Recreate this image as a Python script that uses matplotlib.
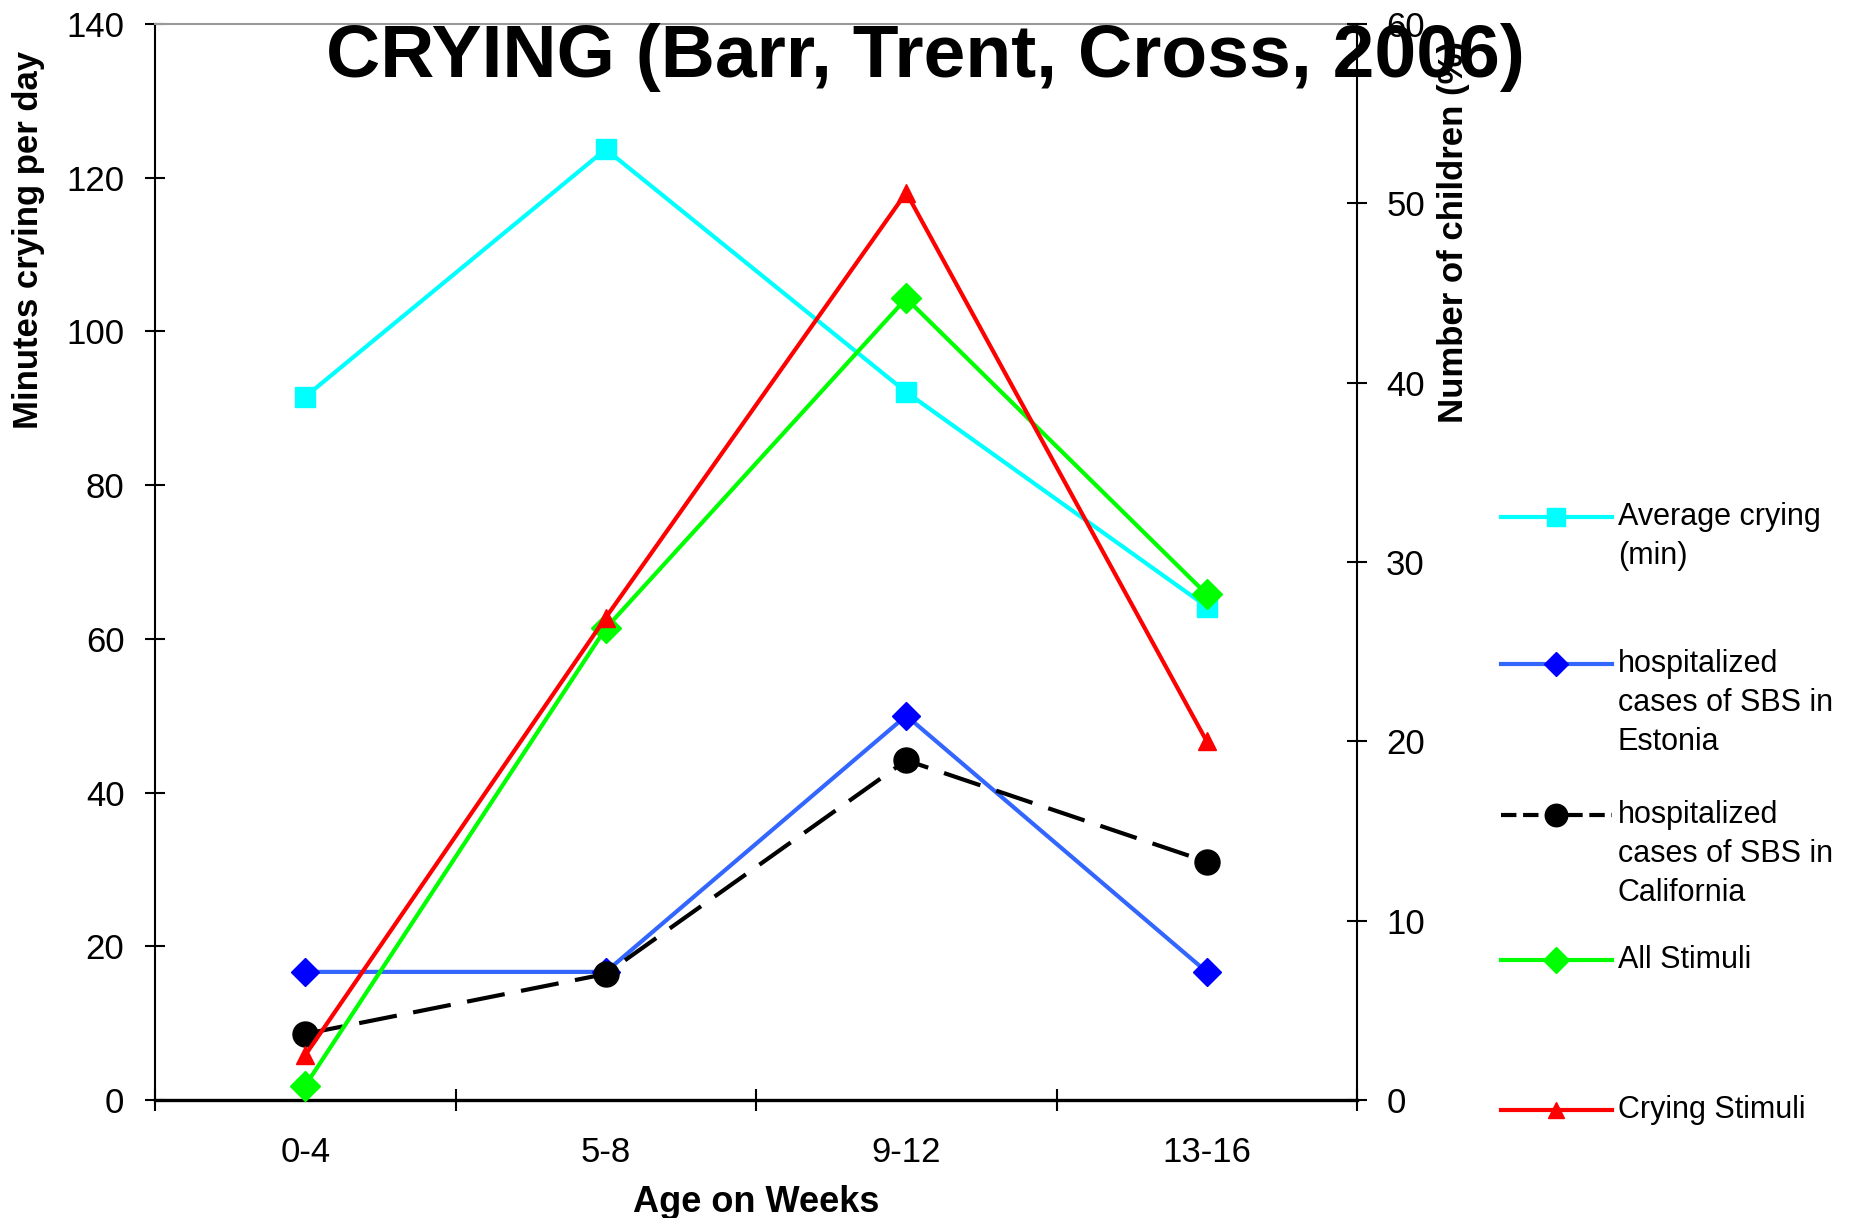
import matplotlib.pyplot as plt
from matplotlib.lines import Line2D

# data
ages = ['0-4', '5-8', '9-12', '13-16']

avg_crying = [91.5, 123.7, 92.1, 64.2]        # minutes / day (left axis)
sbs_estonia = [16.67, 16.67, 50.0, 16.67]     # left axis
sbs_california = [8.6, 16.4, 44.2, 31.0]      # left axis
all_stimuli = [0.8, 26.3, 44.7, 28.2]         # right axis
crying_stimuli = [2.5, 26.9, 50.6, 20.0]      # right axis

left_ticks = [0, 20, 40, 60, 80, 100, 120, 140]
right_ticks = [0, 10, 20, 30, 40, 50, 60]

legend_labels = ['Average crying\n(min)',
                 'hospitalized\ncases of SBS in\nEstonia',
                 'hospitalized\ncases of SBS in\nCalifornia',
                 'All Stimuli',
                 'Crying Stimuli']

plt.rcParams['font.family'] = ['Liberation Sans', 'DejaVu Sans']
bold = dict(fontweight='bold')

W, H = 1858, 1218
fig = plt.figure(figsize=(W / 100, H / 100), dpi=100)
ax = fig.add_axes([155 / W, 1 - 1100 / H, 1202 / W, 1076 / H])
ax2 = ax.twinx()

x = list(range(len(ages)))
lw = 3.0
l1, = ax.plot(x, avg_crying, color='#00FFFF', lw=lw, marker='s', ms=15, clip_on=False)
l2, = ax.plot(x, sbs_estonia, color='#3366FF', lw=lw, marker='D', ms=14,
              mfc='#0000FF', mec='#0000FF', clip_on=False)
l3, = ax.plot(x, sbs_california, color='black', lw=lw, ls=(0, (9.2, 4.0)),
              marker='o', ms=18, clip_on=False)
l4, = ax2.plot(x, all_stimuli, color='#00FF00', lw=lw, marker='D', ms=15, clip_on=False)
l5, = ax2.plot(x, crying_stimuli, color='#FF0000', lw=lw, marker='^', ms=13, clip_on=False)

# axes
ax.set_xlim(-0.5, 3.5)
ax.set_xticks(x, ages)
ax.set_xticks([-0.5, 0.5, 1.5, 2.5, 3.5], minor=True)
ax.tick_params(axis='x', which='major', length=0, pad=26, labelsize=25)
ax.tick_params(axis='x', which='minor', direction='inout', length=16, width=1.5)

ax.set_ylim(0, 140)
ax.set_yticks(left_ticks)
ax.tick_params(axis='y', direction='inout', length=14, width=1.5, pad=15, labelsize=25)

ax2.set_ylim(0, 60)
ax2.set_yticks(right_ticks)
ax2.tick_params(axis='y', direction='inout', length=14, width=1.5, pad=14, labelsize=25)

ax.spines['right'].set_visible(False)
ax.spines['top'].set_color('#999999')
ax.spines['top'].set_linewidth(1.5)
ax.spines['left'].set_linewidth(1.5)
ax.spines['bottom'].set_linewidth(2.4)
for s in ['left', 'top', 'bottom']:
    ax2.spines[s].set_visible(False)
ax2.spines['right'].set_linewidth(1.5)

ax.set_xlabel('Age on Weeks', fontsize=26, **bold)
ax.xaxis.set_label_coords(0.5, -0.079)
ax.set_ylabel('Minutes crying per day', fontsize=25, loc='bottom', **bold)
ax.yaxis.set_label_coords(-0.0915, 0.6236)
ax2.set_ylabel('Number of children (%)', fontsize=25, loc='bottom', **bold)
ax2.yaxis.set_label_coords(1.0666, 0.629)

# legend drawn by hand so each handle sits on the first line of its label
handle_y = [517, 664, 815, 960, 1110]
line_gap = 39
for line, label, hy in zip([l1, l2, l3, l4, l5], legend_labels, handle_y):
    yf = 1 - hy / H
    fig.add_artist(Line2D([1501 / W, 1556 / W, 1612 / W], [yf, yf, yf],
                          transform=fig.transFigure, color=line.get_color(),
                          lw=lw, ls=line.get_linestyle(), marker=line.get_marker(),
                          ms=line.get_markersize() * 0.9, markevery=[1],
                          mfc=line.get_markerfacecolor(), mec=line.get_markeredgecolor()))
    for i, txt in enumerate(label.split('\n')):
        fig.text(1618 / W, 1 - (hy + i * line_gap) / H, txt, fontsize=22,
                 va='center', ha='left')

fig.text(0.498, 1 - 77 / H, 'CRYING (Barr, Trent, Cross, 2006)', ha='center',
         va='baseline', fontsize=54, zorder=10, **bold)

fig.savefig('out.png', dpi=100)
